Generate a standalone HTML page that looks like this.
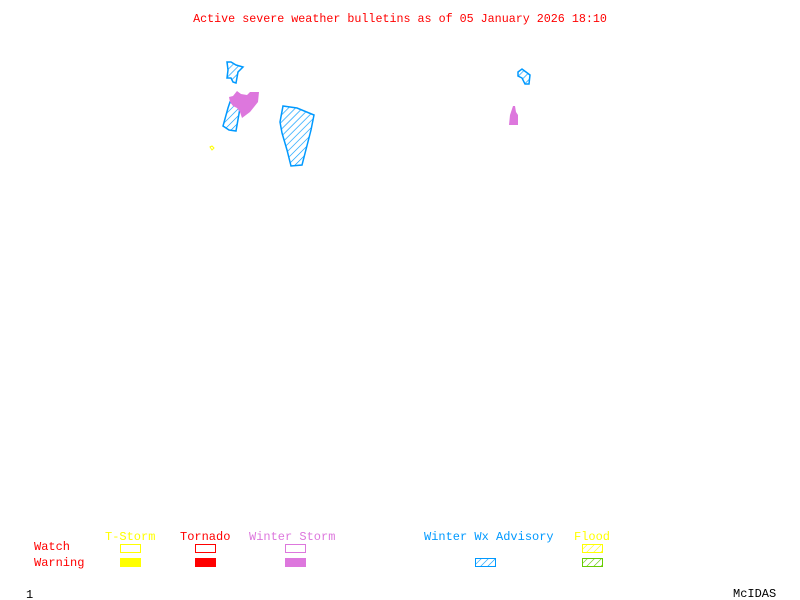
<!DOCTYPE html>
<html><head><meta charset="utf-8"><style>
html,body{margin:0;padding:0;background:#fff}
svg{display:block}
text{font-family:"Liberation Mono",monospace;font-size:12px}
</style></head><body>
<svg width="800" height="600" viewBox="0 0 800 600" xmlns="http://www.w3.org/2000/svg">
<defs>
<pattern id="hb" width="5" height="5" patternUnits="userSpaceOnUse" patternTransform="rotate(45)">
<line x1="0" y1="0" x2="0" y2="5" stroke="#0099ff" stroke-width="1.3"/></pattern>
<pattern id="hy" width="5" height="5" patternUnits="userSpaceOnUse" patternTransform="rotate(45)">
<line x1="0" y1="0" x2="0" y2="5" stroke="#ffff00" stroke-width="1.2"/></pattern>
<pattern id="hg" width="5" height="5" patternUnits="userSpaceOnUse" patternTransform="rotate(45)">
<line x1="0" y1="0" x2="0" y2="5" stroke="#66cc00" stroke-width="1.2"/></pattern>
<pattern id="hb2" width="5" height="5" patternUnits="userSpaceOnUse" patternTransform="rotate(45)">
<line x1="0" y1="0" x2="0" y2="5" stroke="#0099ff" stroke-width="1.2"/></pattern>
</defs>
<text x="400" y="22" fill="#ff0000" text-anchor="middle" style="font-size:11.7px">Active severe weather bulletins as of 05 January 2026 18:10</text>

<polygon points="227,62 231,62 236,65 243,67 238,72 236,83 233,82 231,78 227,78 228,70" fill="url(#hb)" stroke="#0099ff" stroke-width="1.5"/>
<polygon points="230,102 240,108 236,131 229,130 223,126 228,108" fill="url(#hb)" stroke="#0099ff" stroke-width="1.5"/>
<polygon points="229,97 233,96 237,91 241,94 247,95 250,92 259,92 258,102 250,112 242,118 240,112 237,108 233,106 230,102" fill="#dd77dd"/>
<polygon points="283,106 297,108 314,115 311,130 302,165 291,166 289,158 287,150 282,133 280,122" fill="url(#hb)" stroke="#0099ff" stroke-width="1.5"/>
<path d="M210,147 l2,-1 l2,2 l-2,2 z" fill="none" stroke="#ffff00" stroke-width="1"/>

<polygon points="518,72 522,69 526,72 530,75 529,84 525,84 522,78 518,76" fill="url(#hb)" stroke="#0099ff" stroke-width="1.5"/>
<polygon points="513,106 515,106 516,112 518,115 518,125 509,125 510,115" fill="#dd77dd"/>

<text x="34" y="550" fill="#ff0000">Watch</text>
<text x="34" y="566" fill="#ff0000">Warning</text>
<text x="105" y="540" fill="#ffff00">T-Storm</text>
<text x="180" y="540" fill="#ff0000">Tornado</text>
<text x="249" y="540" fill="#dd77dd">Winter Storm</text>
<text x="424" y="540" fill="#0099ff">Winter Wx Advisory</text>
<text x="574" y="540" fill="#ffff00">Flood</text>

<rect x="120.5" y="544.5" width="20" height="8" fill="none" stroke="#ffff00"/>
<rect x="120" y="558" width="21" height="9" fill="#ffff00"/>
<rect x="195.5" y="544.5" width="20" height="8" fill="none" stroke="#ff0000"/>
<rect x="195" y="558" width="21" height="9" fill="#ff0000"/>
<rect x="285.5" y="544.5" width="20" height="8" fill="none" stroke="#dd77dd"/>
<rect x="285" y="558" width="21" height="9" fill="#dd77dd"/>
<rect x="475.5" y="558.5" width="20" height="8" fill="url(#hb2)" stroke="#0099ff"/>
<rect x="582.5" y="544.5" width="20" height="8" fill="url(#hy)" stroke="#ffff00"/>
<rect x="582.5" y="558.5" width="20" height="8" fill="url(#hg)" stroke="#66cc00"/>

<text x="26" y="598" fill="#000">1</text>
<text x="733" y="597" fill="#000">McIDAS</text>
</svg>
</body></html>
